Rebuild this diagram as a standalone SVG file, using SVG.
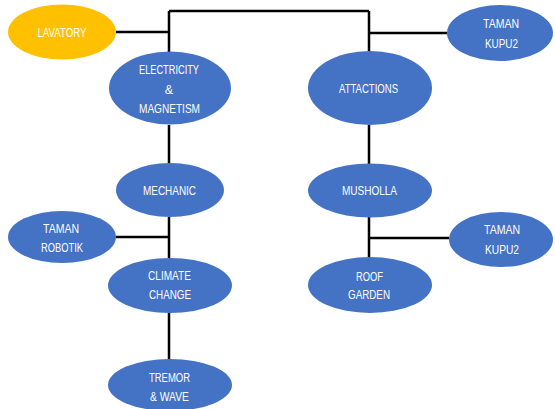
<svg xmlns="http://www.w3.org/2000/svg" width="555" height="409" viewBox="0 0 555 409">
<style>
.b{fill:#4472C4}
.y{fill:#FFC000}
.t{fill:#fff;font-family:"Liberation Sans",Arial,sans-serif;font-size:12.5px;text-anchor:middle}
.c{stroke:#000;stroke-width:2.5;fill:none}
</style>
<rect width="555" height="409" fill="#fff"/>
<g id="connectors">
<path class="c" d="M116 32H169M169 11H369M369 33H447M169 11V52M169 125V163M169 217V258M169 313V359M116 237H169M369 11V51M369 125V164M369 217V257M369 238H449"/>
</g>
<g id="lavatory"><ellipse class="y" cx="62" cy="32" rx="54" ry="27.5"/><text class="t" x="62" y="36.5" textLength="49" lengthAdjust="spacingAndGlyphs">LAVATORY</text></g>
<g id="electricity"><ellipse class="b" cx="170" cy="88" rx="61" ry="36.5"/><text class="t" x="169" y="73.5" textLength="60" lengthAdjust="spacingAndGlyphs">ELECTRICITY</text><text class="t" x="169" y="93.5">&amp;</text><text class="t" x="169.5" y="112.5" textLength="61" lengthAdjust="spacingAndGlyphs">MAGNETISM</text></g>
<g id="kupu-top"><ellipse class="b" cx="500" cy="33" rx="53" ry="28"/><text class="t" x="501" y="27.5" textLength="36" lengthAdjust="spacingAndGlyphs">TAMAN</text><text class="t" x="501.5" y="47.5" textLength="33" lengthAdjust="spacingAndGlyphs">KUPU2</text></g>
<g id="attactions"><ellipse class="b" cx="370" cy="88" rx="62" ry="37"/><text class="t" x="368.5" y="92.5" textLength="59" lengthAdjust="spacingAndGlyphs">ATTACTIONS</text></g>
<g id="mechanic"><ellipse class="b" cx="170" cy="190" rx="54" ry="27"/><text class="t" x="169.5" y="194.5" textLength="53" lengthAdjust="spacingAndGlyphs">MECHANIC</text></g>
<g id="robotik"><ellipse class="b" cx="62" cy="237" rx="54" ry="26"/><text class="t" x="61" y="232.5" textLength="36" lengthAdjust="spacingAndGlyphs">TAMAN</text><text class="t" x="62" y="251.5" textLength="42" lengthAdjust="spacingAndGlyphs">ROBOTIK</text></g>
<g id="climate"><ellipse class="b" cx="170" cy="285.5" rx="62" ry="27.5"/><text class="t" x="169.5" y="279.5" textLength="43" lengthAdjust="spacingAndGlyphs">CLIMATE</text><text class="t" x="170" y="298.5" textLength="42" lengthAdjust="spacingAndGlyphs">CHANGE</text></g>
<g id="tremor"><ellipse class="b" cx="170" cy="385" rx="62" ry="26"/><text class="t" x="169.5" y="381.5" textLength="41" lengthAdjust="spacingAndGlyphs">TREMOR</text><text class="t" x="169.5" y="400.5" textLength="39" lengthAdjust="spacingAndGlyphs">&amp; WAVE</text></g>
<g id="musholla"><ellipse class="b" cx="370" cy="190.5" rx="62" ry="27"/><text class="t" x="369.5" y="194.5" textLength="55" lengthAdjust="spacingAndGlyphs">MUSHOLLA</text></g>
<g id="kupu-low"><ellipse class="b" cx="501" cy="239.5" rx="52" ry="27.5"/><text class="t" x="502" y="233.5" textLength="36" lengthAdjust="spacingAndGlyphs">TAMAN</text><text class="t" x="502" y="253.5" textLength="34" lengthAdjust="spacingAndGlyphs">KUPU2</text></g>
<g id="roof"><ellipse class="b" cx="370" cy="285" rx="62" ry="28"/><text class="t" x="369.5" y="280.5" textLength="27" lengthAdjust="spacingAndGlyphs">ROOF</text><text class="t" x="369" y="298.5" textLength="42" lengthAdjust="spacingAndGlyphs">GARDEN</text></g>
</svg>
